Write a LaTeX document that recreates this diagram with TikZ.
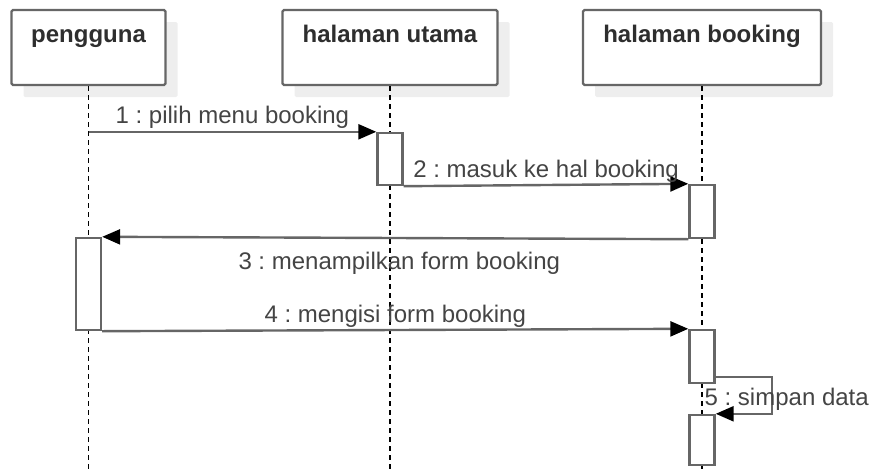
\documentclass[tikz,border=0pt]{standalone}
\usepackage{fontspec}
\setmainfont{Liberation Sans}
\usetikzlibrary{arrows.meta,shadows}
\definecolor{boxgray}{HTML}{666666}
\definecolor{linegray}{HTML}{666666}
\definecolor{shadowgray}{HTML}{EEEEEE}
\definecolor{titletext}{HTML}{2E2E2E}
\definecolor{msgtext}{HTML}{444444}
\frenchspacing

\begin{document}
\begin{tikzpicture}[x=1pt,y=-1pt,
  head/.style={draw=boxgray,line width=2.4pt,fill=white,rounded corners=1.5pt,minimum height=75pt,inner sep=0pt,
    general shadow={fill=shadowgray,draw=none,shadow xshift=12pt,shadow yshift=-12pt}},
  title/.style={anchor=base,yshift=-34pt,inner sep=0pt,text=titletext,font=\bfseries\fontsize{24}{28}\selectfont},
  act/.style={draw=boxgray,line width=2.4pt,fill=white,minimum width=25pt,inner sep=0pt},
  lifeline/.style={line width=1.6pt,dash pattern=on 5pt off 4pt},
  msg/.style={draw=linegray,line width=2.4pt,-{Triangle[length=18pt,width=15pt,color=black]}},
  msglabel/.style={anchor=base,inner sep=0pt,text=msgtext,font=\fontsize{24}{28}\selectfont}]
\useasboundingbox (0,0) rectangle (875,469);
\coordinate (bottom) at (0,469);

\foreach \name/\x/\w/\txt in {pengguna/88.5/154/pengguna, utama/390/215/halaman utama, booking/702/238/halaman booking}
	{
	\node[head,minimum width=\w pt,label={[title]north:\txt}] (\name) at (\x,47.5) {};
	}
\foreach \name in {pengguna,utama,booking}
	\draw[lifeline] (\name.south) -- (\name.south |- bottom);

\node[act,minimum height=52pt] (a1) at (390,159) {};
\node[act,minimum height=53pt] (b1) at (702,211.5) {};
\node[act,minimum height=92pt] (p1) at (88.5,284) {};
\node[act,minimum height=53pt] (b2) at (702,356.5) {};
\node[act,minimum height=50pt] (b3) at (702,440) {};

\draw[msg] (pengguna.south |- a1.north) -- (a1.north west)
	node[msglabel,midway,yshift=8pt] {1 : pilih menu booking};
\draw[msg] (a1.south east) -- (b1.north west)
	node[msglabel,midway,yshift=8pt] {2 : masuk ke hal booking};
\draw[msg] (b1.south west) -- (p1.north east)
	node[msglabel,midway,xshift=4pt,yshift=-31pt] {3 : menampilkan form booking};
\draw[msg] (p1.south east) -- (b2.north west)
	node[msglabel,midway,yshift=8pt] {4 : mengisi form booking};
\draw[msg] ([yshift=7pt]b2.south east) -- ++(56,0) |- (b3.north east)
	node[msglabel,pos=0.25,xshift=15pt,yshift=-10pt] {5 : simpan data};
\end{tikzpicture}
\end{document}
